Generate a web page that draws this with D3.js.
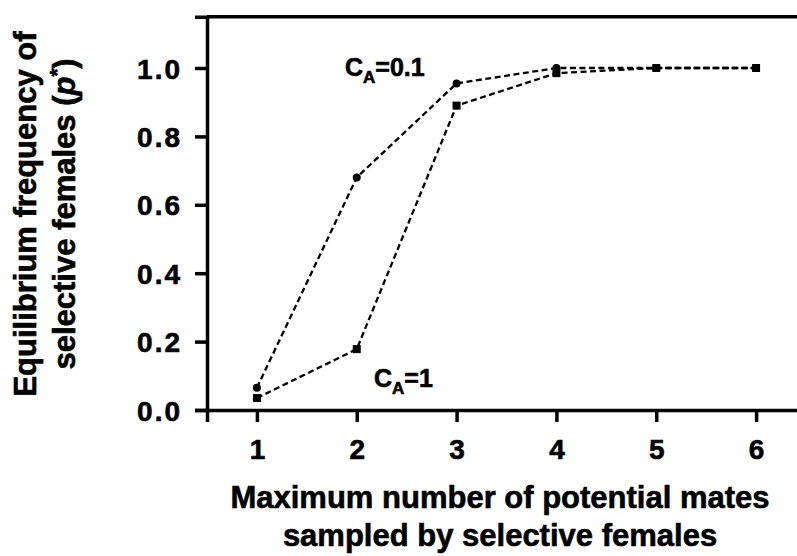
<!DOCTYPE html>
<html>
<head>
<meta charset="utf-8">
<script src="https://cdn.jsdelivr.net/npm/d3@7"></script>
<style>
  body { margin: 0; background: #fff; }
  svg { display: block; font-family: Arial, "Liberation Sans", sans-serif; font-weight: bold; }
  text { stroke: #000; stroke-width: 0.6px; }
</style>
</head>
<body>
<svg id="chart" width="797" height="556"></svg>
<script>
/* data */
const mates     = [1, 2, 3, 4, 5, 6];
const ca01      = [0.065, 0.68, 0.955, 1.0, 1.0, 1.0];   // C_A = 0.1, circles
const ca1       = [0.035, 0.178, 0.89, 0.985, 1.0, 1.0]; // C_A = 1, squares
const yTicks    = [0, 0.2, 0.4, 0.6, 0.8, 1.0];
const xTicks    = [1, 2, 3, 4, 5, 6];
const yTitle    = ["Equilibrium frequency of", "selective females ("];
const xTitle    = ["Maximum number of potential mates", "sampled by selective females"];

const svg = d3.select("#chart");

const x = d3.scaleLinear().domain([0.5, 6.5]).range([207, 806]);
const y = d3.scaleLinear().domain([0, 1.15]).range([410, 16.7]);

// axes
const yAxis = svg.append("g")
  .attr("transform", "translate(" + x(0.5) + ",0)")
  .call(d3.axisLeft(y).tickValues(yTicks).tickFormat(d3.format(".1f")).tickSize(12).tickPadding(13));

const xAxis = svg.append("g")
  .attr("transform", "translate(0," + y(0) + ")")
  .call(d3.axisBottom(x).tickValues(xTicks).tickFormat(d3.format("d")).tickSize(12).tickPadding(12));

[yAxis, xAxis].forEach(g => {
  g.select(".domain").attr("stroke-width", 3.5);
  g.selectAll(".tick line").attr("stroke-width", 3.5);
  g.selectAll(".tick text")
    .attr("font-size", 28)
    .attr("font-weight", "bold")
    .attr("letter-spacing", 2)
    .attr("font-family", "Arial, 'Liberation Sans', sans-serif")
    .attr("fill", "#000");
});
yAxis.selectAll(".tick text").attr("dy", "0.36em");
xAxis.selectAll(".tick text").attr("dy", "0.88em").attr("dx", 1);

// top frame line
svg.append("line")
  .attr("x1", x(0.5)).attr("x2", 797)
  .attr("y1", y(1.15)).attr("y2", y(1.15))
  .attr("stroke", "#000").attr("stroke-width", 3.5);

// lines
const line = d3.line()
  .x((d, i) => x(mates[i]))
  .y(d => y(d));

[ca01, ca1].forEach(s => {
  svg.append("path")
    .datum(s)
    .attr("d", line)
    .attr("fill", "none")
    .attr("stroke", "#000")
    .attr("stroke-width", 2.3)
    .attr("stroke-dasharray", "6,3.5");
});

// markers
svg.selectAll(".dot")
  .data(ca01)
  .enter().append("circle")
    .attr("class", "dot")
    .attr("cx", (d, i) => x(mates[i]))
    .attr("cy", d => y(d))
    .attr("r", 4)
    .attr("fill", "#000");

svg.selectAll(".sq")
  .data(ca1)
  .enter().append("rect")
    .attr("class", "sq")
    .attr("x", (d, i) => x(mates[i]) - 4)
    .attr("y", d => y(d) - 4)
    .attr("width", 8)
    .attr("height", 8)
    .attr("fill", "#000");

// series labels
function seriesLabel(px, py, val) {
  const t = svg.append("text")
    .attr("x", px).attr("y", py)
    .attr("font-size", 25);
  t.append("tspan").text("C");
  t.append("tspan").attr("font-size", 17).attr("dy", 7).text("A");
  t.append("tspan").attr("dy", -7).text("=" + val);
}
seriesLabel(345, 76, "0.1");
seriesLabel(374, 387, "1");

// y title
const yt = svg.append("g")
  .attr("transform", "translate(0," + 214 + ") rotate(-90)");
yt.append("text")
  .attr("x", 0).attr("y", 36)
  .attr("text-anchor", "middle")
  .attr("font-size", 31)
  .text(yTitle[0]);
const yt2 = yt.append("text")
  .attr("x", 0).attr("y", 75)
  .attr("text-anchor", "middle")
  .attr("font-size", 31);
yt2.append("tspan").text(yTitle[1]);
yt2.append("tspan").attr("font-style", "italic").text("p");
yt2.append("tspan").attr("font-size", 20).attr("dy", -11).text("*");
yt2.append("tspan").attr("dy", 11).text(")");

// x title
xTitle.forEach((s, i) => {
  svg.append("text")
    .attr("x", 500)
    .attr("y", 508 + i * 38)
    .attr("text-anchor", "middle")
    .attr("font-size", 31)
    .text(s);
});
</script>
</body>
</html>
